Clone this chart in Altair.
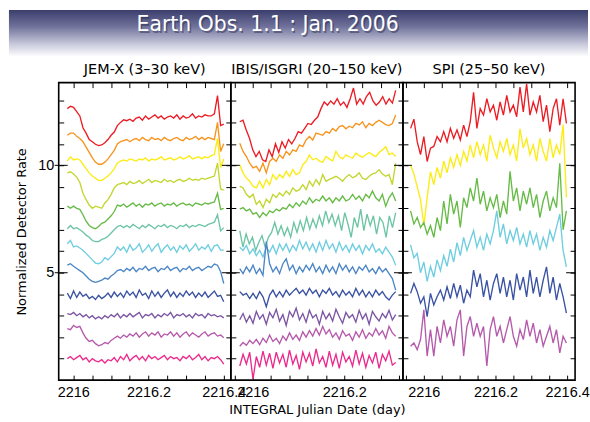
import altair as alt
import numpy as np
import pandas as pd

TITLE = ["Earth Obs. 1.1 : Jan. 2006"]
PANEL_TITLES = ["JEM-X (3–30 keV)", "IBIS/ISGRI (20–150 keV)", "SPI (25–50 keV)"]
X_TITLE = "INTEGRAL Julian Date (day)"
Y_TITLE = "Normalized Detector Rate"

SERIES_NAMES = ["red", "orange", "yellow", "yellowgreen", "green", "teal",
                "cyan", "blue", "darkblue", "purple", "magenta", "pink"]
SERIES_COLORS = ["#ec1c24", "#f7941d", "#fcec14", "#c2d62e", "#66bb46", "#6cc4a4",
                 "#6ecde0", "#4c86c7", "#3a52a2", "#7b55a3", "#b55aab", "#ec2a8c"]

# time span of each instrument's samples (evenly spaced)
JEMX_T = (2215.984, 2216.400)
IBIS_T = (2215.9717, 2216.3124)
SPI_T = (2215.963, 2216.398)

JEMX = {
    "red": [12.64, 12.75, 12.7, 12.5, 12.3, 11.75, 11.5, 11.2, 11.1, 10.98,
            10.92, 10.95, 11.05, 11.2, 11.4, 11.55, 11.85, 12.0, 12.12, 12.08,
            12.15, 12.05, 12.2, 12.25, 12.1, 12.3, 12.15, 12.25, 12.35, 12.2,
            12.3, 12.15, 12.25, 12.3, 12.2, 12.35, 12.15, 12.3, 12.2, 12.25,
            12.4, 12.2, 12.3, 12.25, 12.35, 12.3, 12.3, 12.4, 13.25, 11.85, 11.92],
    "orange": [11.4, 11.5, 11.5, 11.35, 11.25, 11.1, 10.85, 10.6, 10.35, 10.15,
               10.05, 10.05, 10.15, 10.3, 10.5, 10.7, 11.0, 11.1, 11.15, 11.2,
               11.1, 11.2, 11.25, 11.15, 11.3, 11.2, 11.15, 11.3, 11.2, 11.25,
               11.15, 11.3, 11.2, 11.15, 11.25, 11.3, 11.2, 11.15, 11.3, 11.2,
               11.25, 11.35, 11.2, 11.3, 11.2, 11.3, 11.25, 11.2, 12.0, 10.65, 11.0],
    "yellow": [10.2, 10.4, 10.25, 10.3, 10.25, 10.05, 9.85, 9.65, 9.5, 9.4,
               9.3, 9.3, 9.4, 9.5, 9.65, 9.85, 10.1, 10.2, 10.25, 10.2,
               10.3, 10.25, 10.2, 10.3, 10.25, 10.35, 10.2, 10.3, 10.25, 10.3,
               10.4, 10.25, 10.3, 10.35, 10.25, 10.3, 10.4, 10.3, 10.35, 10.45,
               10.3, 10.35, 10.4, 10.3, 10.4, 10.35, 10.45, 10.5, 11.25, 9.9, 10.3],
    "yellowgreen": [9.65, 9.7, 9.6, 9.45, 9.2, 8.7, 8.4, 8.15, 8.0, 8.1,
                    8.05, 8.0, 8.25, 8.4, 8.65, 8.95, 9.1, 9.15, 9.2, 9.1,
                    9.25, 9.15, 9.2, 9.3, 9.15, 9.25, 9.35, 9.2, 9.3, 9.25,
                    9.2, 9.35, 9.25, 9.3, 9.2, 9.3, 9.35, 9.25, 9.3, 9.4,
                    9.3, 9.35, 9.3, 9.4, 9.35, 9.4, 9.45, 9.5, 10.1, 8.9, 8.85],
    "green": [8.1, 8.0, 8.1, 8.0, 7.95, 7.7, 7.4, 7.2, 7.1, 7.05,
              7.15, 7.3, 7.35, 7.5, 7.65, 7.85, 8.15, 8.1, 8.2, 8.05,
              8.15, 8.25, 8.1, 8.2, 8.05, 8.2, 8.15, 8.25, 8.1, 8.2,
              8.25, 8.1, 8.2, 8.15, 8.25, 8.1, 8.2, 8.25, 8.15, 8.2,
              8.1, 8.25, 8.2, 8.15, 8.25, 8.2, 8.25, 8.3, 8.7, 7.95, 8.0],
    "teal": [7.05, 7.2, 7.05, 7.1, 7.0, 6.9, 6.75, 6.65, 6.5, 6.45,
             6.45, 6.55, 6.6, 6.7, 6.85, 7.0, 7.15, 7.2, 7.1, 7.2,
             7.1, 7.25, 7.15, 7.05, 7.2, 7.1, 7.25, 7.15, 7.05, 7.2,
             7.15, 7.25, 7.1, 7.2, 7.15, 7.05, 7.2, 7.15, 7.25, 7.1,
             7.2, 7.15, 7.25, 7.2, 7.15, 7.25, 7.3, 7.35, 7.7, 6.95, 7.1],
    "cyan": [6.35, 6.5, 6.2, 6.25, 6.15, 6.05, 5.9, 5.75, 5.6, 5.45,
             5.42, 5.5, 5.7, 5.6, 5.75, 5.9, 6.2, 6.05, 6.2, 5.95,
             6.3, 6.05, 6.15, 6.35, 5.95, 6.1, 6.3, 6.0, 6.2, 6.35,
             5.95, 6.15, 6.3, 6.05, 6.2, 5.95, 6.25, 6.1, 6.3, 6.0,
             6.15, 6.35, 6.05, 6.2, 6.1, 6.3, 6.0, 6.25, 6.3, 6.05, 6.05],
    "blue": [5.35, 5.42, 5.3, 5.2, 5.1, 5.0, 4.85, 4.7, 4.6, 4.55,
             4.6, 4.65, 4.75, 4.7, 4.85, 4.95, 5.1, 5.15, 5.05, 5.2,
             5.1, 5.25, 5.05, 5.2, 5.15, 5.3, 5.1, 5.2, 5.25, 5.05,
             5.2, 5.15, 5.3, 5.1, 5.2, 5.25, 5.05, 5.2, 5.15, 5.3,
             5.1, 5.2, 5.25, 5.1, 5.2, 5.3, 5.25, 5.4, 5.35, 5.05, 4.5],
    "darkblue": [4.05, 3.8, 4.15, 3.85, 4.1, 3.9, 4.0, 3.8, 3.9, 3.75,
                 3.95, 3.8, 3.9, 4.05, 3.85, 4.1, 3.9, 4.05, 3.85, 4.15,
                 3.95, 4.1, 3.85, 4.2, 3.95, 4.05, 3.8, 4.15, 3.9, 4.1,
                 3.85, 4.05, 4.2, 3.9, 4.1, 3.85, 4.05, 3.9, 4.15, 3.95,
                 4.1, 3.85, 4.05, 3.9, 4.1, 3.85, 4.0, 4.15, 3.9, 3.95, 3.65],
    "purple": [3.1, 3.05, 3.15, 3.0, 3.1, 2.95, 3.05, 2.9, 3.0, 2.85,
               2.95, 2.85, 3.0, 2.9, 3.05, 2.95, 3.1, 2.9, 3.05, 2.95,
               3.1, 2.95, 3.05, 3.15, 2.9, 3.05, 3.0, 3.1, 2.9, 3.05,
               2.95, 3.1, 3.0, 3.15, 2.9, 3.05, 3.0, 3.1, 2.95, 3.05,
               2.9, 3.1, 3.0, 3.05, 2.9, 3.1, 3.0, 3.05, 2.95, 3.0, 2.9],
    "magenta": [2.4, 2.35, 2.55, 2.45, 2.5, 2.2, 1.95, 1.8, 1.85, 1.7,
                1.6, 1.65, 1.75, 1.7, 1.85, 1.95, 2.05, 1.95, 2.1, 2.0,
                2.15, 2.05, 2.2, 2.0, 2.15, 2.25, 2.05, 2.2, 2.1, 2.25,
                2.0, 2.15, 2.1, 2.25, 2.05, 2.2, 2.0, 2.15, 2.25, 2.05,
                2.2, 2.1, 2.0, 2.15, 2.25, 2.05, 2.15, 2.2, 2.05, 2.1, 1.97],
    "pink": [1.0, 1.1, 0.95, 1.05, 1.15, 0.95, 1.05, 0.85, 1.0, 0.9,
             0.85, 0.95, 0.8, 0.95, 0.9, 1.05, 0.85, 1.1, 0.95, 1.2,
             0.9, 1.05, 1.15, 0.95, 1.1, 0.9, 1.15, 1.0, 1.1, 0.95,
             1.05, 1.15, 0.95, 1.1, 1.0, 1.05, 0.9, 1.1, 1.0, 1.15,
             0.95, 1.05, 1.2, 0.95, 1.1, 0.9, 1.05, 1.0, 1.1, 0.95, 0.75],
}

IBIS = {
    "red": [12.03, 12.1, 11.65, 11.26, 10.72, 10.41, 10.65, 10.26, 10.18, 10.72,
            10.4, 11.0, 10.6, 11.1, 10.8, 11.2, 11.0, 11.25, 11.57, 11.5,
            11.72, 11.95, 11.9, 12.1, 12.25, 12.64, 12.95, 12.8, 13.0, 12.85,
            13.1, 12.8, 12.95, 12.7, 13.1, 13.6, 12.85, 13.1, 12.85, 13.2,
            13.4, 13.0, 12.8, 12.95, 13.2, 12.85, 13.1, 12.9, 13.49],
    "orange": [11.03, 10.65, 10.41, 10.1, 9.88, 9.95, 9.72, 10.1, 9.65, 10.18,
               10.33, 10.18, 10.49, 10.33, 10.65, 10.49, 10.72, 10.65, 10.95, 10.87,
               11.18, 11.34, 11.18, 11.5, 11.45, 11.4, 11.57, 11.5, 11.72, 11.6,
               11.8, 11.85, 11.7, 11.82, 11.75, 11.95, 11.88, 12.03, 11.75, 11.95,
               11.85, 12.0, 12.1, 12.0, 11.9, 11.85, 11.95, 12.34],
    "yellow": [10.03, 9.65, 9.41, 9.26, 9.03, 8.95, 9.26, 8.95, 9.34, 9.1,
               9.57, 9.34, 9.57, 9.42, 9.72, 9.49, 9.8, 9.57, 9.65, 10.03,
               10.18, 10.49, 10.26, 10.33, 10.2, 10.15, 10.41, 10.3, 10.2, 10.65,
               10.4, 10.3, 10.49, 10.4, 10.33, 10.57, 10.45, 10.38, 10.49, 10.6,
               10.5, 10.41, 10.6, 10.72, 10.87, 10.5, 10.57, 10.41],
    "yellowgreen": [9.03, 8.95, 8.65, 8.5, 8.65, 8.19, 8.34, 8.03, 8.42, 8.26,
                    8.65, 8.5, 8.72, 8.57, 8.8, 8.65, 8.95, 8.8, 8.87, 9.1,
                    8.87, 9.26, 9.03, 9.34, 9.1, 9.57, 9.26, 9.35, 9.42, 9.49,
                    9.4, 9.26, 9.45, 9.57, 9.42, 9.5, 9.65, 9.4, 9.34, 9.49,
                    9.6, 9.65, 9.8, 9.6, 9.49, 9.57, 9.1, 10.1],
    "green": [7.96, 8.03, 7.88, 7.96, 7.73, 7.8, 7.57, 7.8, 7.65, 7.88,
              7.8, 7.96, 7.88, 8.03, 7.96, 8.19, 8.03, 8.26, 8.1, 8.34,
              8.19, 8.49, 8.26, 8.42, 8.34, 8.57, 8.34, 8.49, 8.26, 8.49,
              8.34, 8.57, 8.34, 8.42, 8.65, 8.42, 8.57, 8.34, 8.65, 8.49,
              8.8, 8.49, 8.34, 8.65, 8.1, 8.49, 8.72, 8.34],
    "teal": [6.96, 6.19, 6.8, 6.34, 6.65, 6.04, 6.42, 6.73, 6.19, 6.65,
             6.88, 7.34, 6.8, 7.19, 6.73, 7.1, 6.65, 7.34, 6.88, 7.42,
             6.96, 7.57, 7.03, 7.5, 7.1, 7.65, 7.19, 7.88, 7.34, 7.73,
             7.19, 7.65, 6.96, 7.8, 7.27, 6.65, 7.57, 7.1, 7.96, 6.96,
             7.73, 7.19, 7.65, 6.8, 7.57, 7.34, 6.65, 7.65, 7.1, 7.8],
    "cyan": [6.19, 6.04, 6.27, 5.88, 6.11, 5.8, 6.04, 5.73, 6.19, 5.96,
             6.27, 5.88, 6.34, 6.04, 6.34, 5.96, 6.27, 6.04, 6.5, 6.11,
             6.42, 6.04, 6.34, 5.96, 6.42, 6.04, 6.5, 6.11, 6.34, 5.96,
             6.42, 6.04, 6.27, 5.96, 6.34, 6.04, 6.27, 5.88, 6.27, 6.04,
             6.34, 5.96, 6.11, 5.88, 6.19, 5.96, 5.73, 5.35],
    "blue": [5.19, 4.96, 5.27, 5.04, 5.35, 4.96, 5.19, 4.88, 6.45, 5.42,
             5.04, 5.27, 4.96, 5.42, 5.65, 5.12, 5.35, 4.96, 5.27, 5.04,
             5.35, 5.12, 5.42, 5.04, 5.27, 4.96, 5.35, 5.04, 5.27, 4.96,
             5.42, 5.12, 5.35, 5.04, 5.27, 4.96, 5.27, 5.12, 5.35, 5.04,
             5.19, 4.96, 5.27, 5.04, 5.19, 4.96, 4.73, 4.19],
    "darkblue": [4.12, 3.96, 4.04, 3.8, 4.04, 3.8, 4.12, 3.88, 3.42, 3.96,
                 4.19, 3.88, 4.12, 3.88, 4.19, 3.96, 4.12, 4.27, 4.04, 4.19,
                 3.96, 4.27, 4.04, 4.19, 3.88, 4.19, 4.04, 4.27, 3.96, 4.12,
                 3.88, 4.19, 3.96, 4.12, 3.88, 4.27, 3.96, 4.19, 3.88, 4.12,
                 3.88, 4.19, 3.96, 4.12, 3.88, 3.73, 3.96, 4.12],
    "purple": [2.81, 3.1, 2.7, 3.0, 2.65, 3.2, 2.85, 3.05, 2.6, 3.15,
               2.9, 3.3, 2.75, 3.05, 2.55, 3.2, 2.95, 3.35, 2.8, 3.1,
               2.7, 3.25, 2.9, 3.05, 2.6, 3.2, 2.85, 3.1, 2.75, 3.3,
               2.95, 2.65, 3.15, 2.9, 3.05, 2.7, 3.25, 2.85, 3.1, 2.6,
               3.2, 2.95, 2.75, 3.1, 2.9, 3.25, 2.8, 3.05],
    "magenta": [1.58, 1.75, 1.62, 1.85, 1.7, 1.9, 1.65, 1.95, 1.75, 2.1,
                1.8, 1.95, 1.7, 2.05, 1.85, 2.2, 1.9, 2.1, 1.85, 2.25,
                2.0, 2.3, 2.05, 2.4, 2.1, 2.5, 2.15, 2.35, 2.0, 2.2,
                1.9, 2.3, 2.05, 2.15, 1.85, 2.25, 2.0, 2.35, 1.95, 2.2,
                2.05, 2.4, 2.1, 2.3, 1.95, 2.5, 2.2, 2.04],
    "pink": [0.66, 1.2, 0.75, 1.3, 0.05, 1.1, 0.6, 1.35, 0.7, 1.25,
             0.55, 1.3, 0.8, 1.2, 0.6, 1.4, 0.75, 1.15, 0.5, 1.3,
             0.85, 1.25, 0.65, 1.45, 0.8, 1.1, 0.6, 1.35, 0.7, 1.2,
             0.55, 1.3, 0.85, 1.1, 0.65, 1.4, 0.75, 1.25, 0.6, 1.15,
             0.8, 1.3, 0.55, 1.2, 0.9, 1.35, 0.7, 0.82],
}

SPI = {
    "red": [11.72, 12.15, 11.1, 10.5, 11.34, 10.18, 10.8, 10.88, 11.34, 11.1,
            11.57, 11.1, 11.72, 11.26, 11.65, 11.18, 11.87, 11.34, 12.03, 13.4,
            11.72, 12.64, 12.34, 13.1, 12.49, 12.8, 12.1, 12.95, 12.34, 13.26,
            12.49, 12.8, 12.26, 13.64, 12.49, 13.8, 12.34, 12.95, 12.49, 13.26,
            12.03, 12.8, 11.57, 12.64, 13.1, 11.87, 13.1, 11.95],
    "yellow": [10.0, 9.6, 9.0, 8.4, 7.2, 8.5, 9.7, 9.1, 9.9, 9.4,
               10.2, 9.65, 10.35, 9.9, 10.5, 10.0, 10.65, 10.2, 10.95, 10.35,
               11.1, 10.5, 10.95, 10.2, 11.4, 10.8, 10.35, 11.1, 10.65, 11.25,
               10.5, 10.95, 10.2, 11.7, 10.8, 11.25, 10.5, 10.95, 10.2, 11.25,
               10.65, 10.2, 11.25, 10.35, 10.95, 10.5, 11.9, 8.5],
    "green": [7.88, 7.27, 7.57, 7.11, 7.34, 6.8, 7.19, 6.65, 7.57, 6.96,
              8.34, 7.27, 8.65, 7.73, 8.34, 7.11, 8.49, 8.03, 8.95, 8.34,
              9.41, 8.19, 8.8, 7.88, 8.49, 8.03, 8.65, 7.57, 8.34, 7.73,
              9.72, 8.34, 8.95, 7.88, 8.8, 8.19, 8.95, 8.03, 8.65, 7.57,
              8.34, 8.8, 7.88, 8.49, 8.03, 10.1, 7.0, 7.88],
    "cyan": [6.3, 5.7, 5.9, 5.0, 5.5, 4.6, 5.3, 4.8, 5.6, 5.1,
             5.8, 5.3, 6.1, 5.5, 6.4, 5.8, 6.65, 6.04, 6.5, 6.96,
             6.19, 6.65, 6.04, 6.8, 6.34, 6.96, 7.88, 6.65, 7.27, 6.34,
             6.96, 6.5, 7.11, 6.34, 6.8, 6.19, 6.96, 6.34, 6.8, 6.04,
             6.65, 6.19, 6.96, 6.5, 7.11, 7.73, 6.04, 5.27],
    "darkblue": [4.04, 4.5, 4.12, 3.58, 3.88, 2.96, 4.04, 3.5, 3.88, 4.19,
                 3.73, 4.34, 3.8, 4.5, 3.88, 4.42, 3.58, 4.19, 3.88, 5.12,
                 4.34, 4.96, 3.88, 4.65, 3.73, 4.5, 4.96, 4.04, 4.8, 3.88,
                 4.65, 3.73, 4.96, 4.19, 4.8, 3.88, 5.12, 4.04, 4.8, 3.88,
                 4.65, 5.27, 4.04, 4.8, 3.73, 4.5, 3.88, 3.12],
    "magenta": [1.58, 1.73, 1.42, 1.89, 3.27, 1.12, 2.35, 1.12, 2.5, 1.73,
                2.81, 2.04, 2.5, 1.58, 2.81, 3.27, 1.12, 2.5, 2.96, 2.04,
                2.65, 2.04, 2.5, 0.66, 2.35, 2.96, 2.04, 2.5, 1.73, 2.35,
                2.96, 2.04, 1.58, 2.35, 1.89, 2.81, 2.04, 2.65, 1.73, 2.35,
                1.58, 2.04, 2.5, 1.73, 2.35, 1.27, 2.04, 1.73],
}

X_DOMAINS = {"jemx": [2215.9611, 2216.4188],
             "ibis": [2215.9522, 2216.3283],
             "spi": [2215.9417, 2216.4222]}
X_TICKS = {"jemx": [2216.0, 2216.05, 2216.1, 2216.15, 2216.2, 2216.25, 2216.3, 2216.35, 2216.4],
           "ibis": [2215.96, 2216.0, 2216.04, 2216.08, 2216.12, 2216.16, 2216.2,
                    2216.24, 2216.28, 2216.32],
           "spi": [2215.95, 2216.0, 2216.05, 2216.1, 2216.15, 2216.2, 2216.25,
                   2216.3, 2216.35, 2216.4]}
X_LABELED = [2216, 2216.2, 2216.4]
Y_DOMAIN = [0, 13.85]
Y_TICKS = list(range(1, 14))
Y_LABELED = [5, 10]

rows = []
for pid, tr, ser in [("jemx", JEMX_T, JEMX), ("ibis", IBIS_T, IBIS), ("spi", SPI_T, SPI)]:
    for name, vals in ser.items():
        ts = np.linspace(tr[0], tr[1], len(vals))
        for t, v in zip(ts, vals):
            rows.append({"panel": pid, "s": name, "t": float(t), "v": v})
df = pd.DataFrame(rows)

W, H = 173, 299
LAB_FONT = "Liberation Sans"
TXT_FONT = "DejaVu Sans"

xlab_test = " || ".join(f"datum.value == {v}" for v in X_LABELED)
ylab_test = " || ".join(f"datum.value == {v}" for v in Y_LABELED)


def panel(pid, idx):
    d = df[df.panel == pid]
    xs = alt.Scale(domain=X_DOMAINS[pid], nice=False, zero=False)
    ys = alt.Scale(domain=Y_DOMAIN, nice=False, zero=False)
    common = dict(offset=-5, tickSize=5, tickColor="black", tickWidth=1,
                  domain=False, grid=False, labelOverlap=False,
                  labelFlush=False, labelBound=False)
    bottom = alt.Axis(orient="bottom", values=X_TICKS[pid],
                      labelExpr=f"({xlab_test}) ? toString(datum.value) : ''",
                      labelFont=LAB_FONT, labelFontSize=14.5, labelColor="black",
                      labelPadding=5,
                      title=X_TITLE if idx == 1 else None,
                      titleFont=TXT_FONT, titleFontSize=13, titleFontWeight="normal",
                      titleColor="black", titlePadding=5, **common)
    top = alt.Axis(orient="top", values=X_TICKS[pid], labels=False, title=None, **common)
    left = alt.Axis(orient="left", values=Y_TICKS, labels=(idx == 0),
                    labelExpr=f"({ylab_test}) ? toString(datum.value) : ''",
                    labelFont=LAB_FONT, labelFontSize=14.5, labelColor="black",
                    labelPadding=5,
                    title=Y_TITLE if idx == 0 else None,
                    titleFont=TXT_FONT, titleFontSize=13, titleFontWeight="normal",
                    titleColor="black", titlePadding=9, **common)
    right = alt.Axis(orient="right", values=Y_TICKS, labels=False, title=None, **common)

    lines = alt.Chart(d).mark_line(strokeWidth=1.35, clip=True).encode(
        x=alt.X("t:Q", scale=xs, axis=bottom),
        y=alt.Y("v:Q", scale=ys, axis=left),
        color=alt.Color("s:N", scale=alt.Scale(domain=SERIES_NAMES, range=SERIES_COLORS),
                        legend=None),
    )
    ghost = alt.Chart(d).mark_line(opacity=0).encode(
        x=alt.X("t:Q", scale=xs, axis=top),
        y=alt.Y("v:Q", scale=ys, axis=right),
        detail="s:N",
    )
    maj = pd.DataFrame({"y": Y_LABELED})
    lt_l = alt.Chart(maj).mark_rule(color="black", strokeWidth=1).encode(
        y=alt.Y("y:Q", scale=ys, axis=None),
        x=alt.value(-4 if idx == 0 else 0), x2=alt.value(9))
    lt_r = alt.Chart(maj).mark_rule(color="black", strokeWidth=1).encode(
        y=alt.Y("y:Q", scale=ys, axis=None),
        x=alt.value(W - 9), x2=alt.value(W))
    return alt.layer(lines, ghost, lt_l, lt_r).resolve_axis(
        x="independent", y="independent").properties(
        width=W, height=H,
        title=alt.TitleParams(PANEL_TITLES[idx], font=TXT_FONT, fontSize=14.5,
                              fontWeight="normal", color="black", anchor="middle",
                              offset=5))


ban = pd.DataFrame({"text": TITLE})
grad = alt.LinearGradient(
    gradient="linear",
    stops=[alt.GradientStop(color="#3b3e6c", offset=0),
           alt.GradientStop(color="#6f719a", offset=0.35),
           alt.GradientStop(color="#c6c7da", offset=0.72),
           alt.GradientStop(color="#ffffff", offset=1)],
    x1=0, x2=0, y1=0, y2=1)
rect = alt.Chart(ban).mark_rect(fill=grad).encode(
    x=alt.value(-50), x2=alt.value(532), y=alt.value(0), y2=alt.value(47))
shadow = alt.Chart(ban).mark_text(font=TXT_FONT, fontSize=20.5, fill="#22244a",
                                  opacity=0.45, align="center", baseline="alphabetic").encode(
    text="text:N", x=alt.value(211.5), y=alt.value(23))
txt = alt.Chart(ban).mark_text(font=TXT_FONT, fontSize=20.5, fill="white",
                               align="center", baseline="alphabetic").encode(
    text="text:N", x=alt.value(210), y=alt.value(21))
banner = alt.layer(rect, shadow, txt).properties(
    width=W * 3, height=46, view=alt.ViewBackground(stroke="transparent"))

panels = alt.hconcat(panel("jemx", 0), panel("ibis", 1), panel("spi", 2),
                     spacing=0, bounds="flush")
chart = alt.vconcat(banner, panels, spacing=27, bounds="flush").properties(
    padding={"left": 8, "top": 8, "right": 0, "bottom": 0},
    background="white",
).configure_view(stroke="black", strokeWidth=1.6)

chart.save("out.html", embed_options={"renderer": "svg", "actions": False})
